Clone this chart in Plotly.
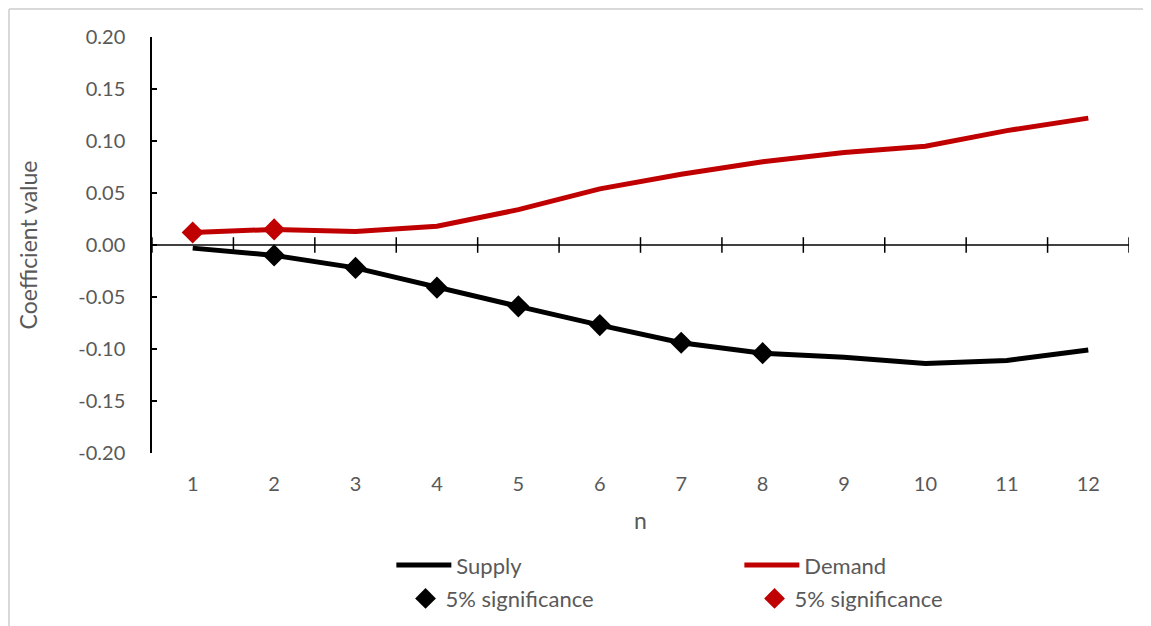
import plotly.graph_objects as go

n = list(range(1, 13))
supply = [-0.003, -0.010, -0.022, -0.041, -0.059, -0.077, -0.094, -0.104, -0.108, -0.114, -0.111, -0.101]
demand = [0.012, 0.015, 0.013, 0.018, 0.034, 0.054, 0.068, 0.080, 0.089, 0.095, 0.110, 0.122]
supply_sig_n = [2, 3, 4, 5, 6, 7, 8]
demand_sig_n = [1, 2]
yticks = [-0.20, -0.15, -0.10, -0.05, 0.00, 0.05, 0.10, 0.15, 0.20]

BLACK = "#000000"
RED = "#c00000"
GRAY = "#595959"
FONT = "Lato"

fig = go.Figure()
fig.add_trace(go.Scatter(x=n, y=supply, mode="lines", name="Supply",
                         line=dict(color=BLACK, width=5), legend="legend"))
fig.add_trace(go.Scatter(x=n, y=demand, mode="lines", name="Demand",
                         line=dict(color=RED, width=5), legend="legend"))
fig.add_trace(go.Scatter(x=supply_sig_n, y=[supply[i - 1] for i in supply_sig_n],
                         mode="markers", name="5% significance",
                         marker=dict(symbol="diamond", color=BLACK, size=17), legend="legend2"))
fig.add_trace(go.Scatter(x=demand_sig_n, y=[demand[i - 1] for i in demand_sig_n],
                         mode="markers", name="5% significance",
                         marker=dict(symbol="diamond", color=RED, size=17), legend="legend2"))

# category boundary ticks crossing the zero line
shapes = []
for b in [i + 0.5 for i in range(0, 13)]:
    shapes.append(dict(type="line", xref="x", yref="y", x0=b, x1=b, y0=-0.0075, y1=0.0075,
                       line=dict(color="#000000", width=1.5), layer="below"))
shapes.append(dict(type="line", xref="x", yref="y", x0=0.5, x1=12.5, y0=0, y1=0,
                   line=dict(color="#000000", width=1.5), layer="below"))
# outer chart border (top and left)
L, T, PW, PH = 144, 29, 977, 416
bx = (1 - L) / PW
by = 1 + (T - 1) / PH
shapes.append(dict(type="line", xref="paper", yref="paper", x0=bx, x1=1.1, y0=by, y1=by,
                   line=dict(color="#d9d9d9", width=2)))
shapes.append(dict(type="line", xref="paper", yref="paper", x0=bx, x1=bx, y0=by, y1=-0.5,
                   line=dict(color="#d9d9d9", width=2)))

fig.update_layout(
    width=1151, height=626,
    margin=dict(l=L, r=30, t=T, b=181, autoexpand=False),
    paper_bgcolor="white", plot_bgcolor="white",
    font=dict(family=FONT, size=20, color=GRAY),
    shapes=shapes,
    xaxis=dict(range=[0.5, 12.5], tickvals=n, ticktext=[str(v) for v in n],
               showgrid=False, zeroline=False, showline=False, ticks="", automargin=False,
               tickfont=dict(size=20, color=GRAY), ticklabelstandoff=17,
               title=dict(text="n", font=dict(size=23, color=GRAY), standoff=18)),
    yaxis=dict(range=[-0.2, 0.2], tickvals=yticks, ticktext=[f"{v:.2f}" for v in yticks],
               showgrid=False, zeroline=False, showline=True, linecolor="#000000", linewidth=1.5,
               ticks="inside", ticklen=5, tickcolor="#000000", tickwidth=1.5, automargin=False,
               tickfont=dict(size=20, color=GRAY), ticklabelstandoff=21,
               title=dict(text="Coefficient value", font=dict(size=23, color=GRAY), standoff=34)),
    legend=dict(orientation="h", x=0.245, y=-0.27, xanchor="left", yanchor="middle",
                entrywidth=278, entrywidthmode="pixels", font=dict(size=22, color=GRAY),
                bgcolor="rgba(0,0,0,0)", itemwidth=55),
    legend2=dict(orientation="h", x=0.2595, y=-0.35, xanchor="left", yanchor="middle",
                 entrywidth=304, entrywidthmode="pixels", font=dict(size=22, color=GRAY),
                 bgcolor="rgba(0,0,0,0)", itemwidth=30),
)

fig.write_html("out.html")
